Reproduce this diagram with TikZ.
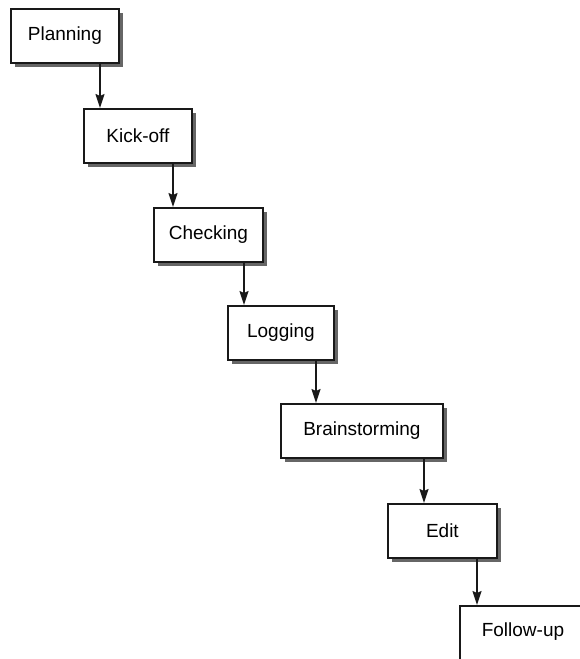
\documentclass[tikz,border=0pt]{standalone}
\usepackage{fontspec}
\setmainfont{Liberation Sans}
\usetikzlibrary{calc, positioning}
\usetikzlibrary{arrows.meta}
\usetikzlibrary{shadows}

\begin{document}
\begin{tikzpicture}[x=1pt, y=-1pt,
  stage/.style={draw=black!90, line width=1.8pt, fill=white, anchor=north west,
    minimum height=54pt, inner sep=0pt, font=\fontsize{19}{22}\selectfont,
    drop shadow={shadow xshift=4pt, shadow yshift=-4pt, fill=black!60, opacity=1}},
  flow/.style={-{Stealth[length=14pt, width=9pt, inset=2pt]}, line width=1.5pt, draw=black!90}]
\useasboundingbox (0,0) rectangle (580,659);
\clip (0,0) rectangle (580,659);
\node[stage, minimum width=108pt] (plan) at (10,8) {Planning};
\node[stage, minimum width=108pt] (kick) at (83,108) {Kick-off};
\node[stage, minimum width=109pt] (check) at (153,207) {Checking};
\node[stage, minimum width=106pt] (log) at (227,305) {Logging};
\node[stage, minimum width=162pt] (brain) at (280,403) {Brainstorming};
\node[stage, minimum width=109pt] (edit) at (387,503) {Edit};
\node[stage, minimum width=128pt, minimum height=70pt] (follow) at (459,605) {};
\node[font=\fontsize{19}{22}\selectfont] (followtxt) at (523,632) {Follow-up};
\coordinate (p1) at ([xshift=90pt]plan.south west);
\coordinate (p2) at ([xshift=90pt]kick.south west);
\coordinate (p3) at ([xshift=91pt]check.south west);
\coordinate (p4) at ([xshift=89pt]log.south west);
\coordinate (p5) at ([xshift=144pt]brain.south west);
\coordinate (p6) at ([xshift=90pt]edit.south west);
\draw[flow] (p1) -- (p1 |- kick.north);
\draw[flow] (p2) -- (p2 |- check.north);
\draw[flow] (p3) -- (p3 |- log.north);
\draw[flow] (p4) -- (p4 |- brain.north);
\draw[flow] (p5) -- (p5 |- edit.north);
\draw[flow] (p6) -- (p6 |- follow.north);
\end{tikzpicture}
\end{document}
